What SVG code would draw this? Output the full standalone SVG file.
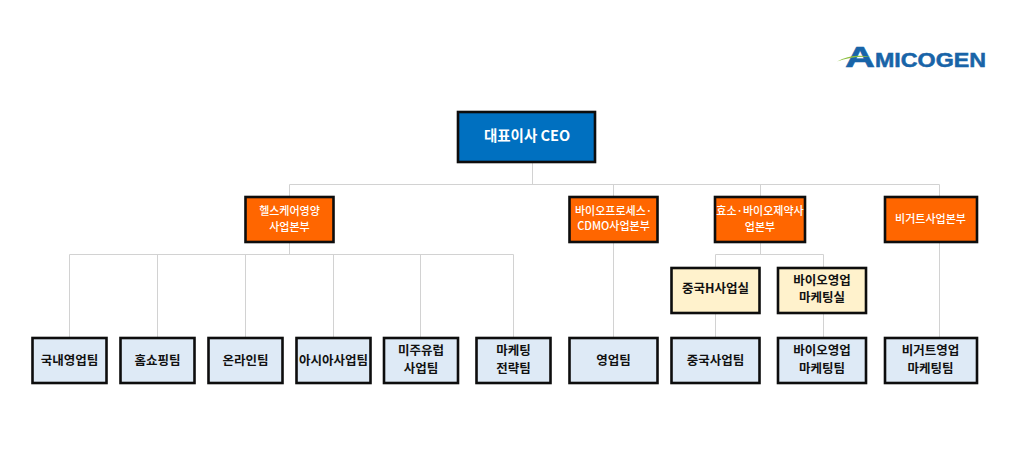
<svg xmlns="http://www.w3.org/2000/svg" width="1024" height="451" viewBox="0 0 1024 451">
<style>
text{font-family:"Noto Sans CJK KR","Noto Sans",sans-serif;text-anchor:middle;font-weight:700}
.b{stroke:#0d0d0d;stroke-width:2.6}
.ceo{fill:#0070c0}.div{fill:#ff6600}.off{fill:#fff2cc}.team{fill:#deeaf6}
.w{fill:#fff;font-size:11px;font-weight:500}.k{fill:#111;font-size:12.500px}
.l{font-family:"Liberation Sans",sans-serif;text-anchor:start;fill:#1864a8;stroke:#1864a8;stroke-width:.5}
#connectors path{fill:none;stroke:#d2d2d2;stroke-width:1}
</style>
<rect width="1024" height="451" fill="#fff"/>
<g id="connectors">
<path d="M532.500 162V184.500M289.500 184.500H939.500M289.500 184.500V197M613.500 184.500V197M760.500 184.500V197M939.500 184.500V197"/>
<path d="M289.500 242V254.500M69.500 254.500H513.500M69.500 254.500V337M157.500 254.500V337M245.500 254.500V337M333.500 254.500V337M420.500 254.500V337M513.500 254.500V337"/>
<path d="M613.500 243V337M939.500 242V337"/>
<path d="M760.500 242V254.500M715.500 254.500H823.500M715.500 254.500V267M823.500 254.500V267M715.500 313V337M823.500 313V337"/>
</g>
<g id="logo">
<text class="l" x="845" y="67" style="font-size:30px" textLength="30" lengthAdjust="spacingAndGlyphs">A</text>
<text class="l" x="875" y="67" style="font-size:19.500px" textLength="111" lengthAdjust="spacingAndGlyphs">MICOGEN</text>
<path d="M837 61.500Q852 53 871 57Q853 55.500 837 61.500Z" fill="#8cbf3f"/>
</g>
<g id="ceo"><rect class="b ceo" x="458" y="112" width="137" height="50"/><text x="527" y="141" style="fill:#fff;font-size:14.500px">대표이사 CEO</text></g>
<g id="div-health"><rect class="b div" x="245.500" y="197" width="88" height="45"/><text class="w" x="289.500" y="215">헬스케어영양</text><text class="w" x="289.500" y="231">사업본부</text></g>
<g id="div-bio"><rect class="b div" x="569.500" y="197" width="88" height="45"/><text class="w" x="613.500" y="215">바이오프로세스·</text><text class="w" x="613.500" y="230">CDMO사업본부</text></g>
<g id="div-enzyme"><rect class="b div" x="715" y="197" width="90" height="45"/><text class="w" x="760" y="215">효소·바이오제약사</text><text class="w" x="760" y="231">업본부</text></g>
<g id="div-yogurt"><rect class="b div" x="885" y="197" width="92" height="45"/><text class="w" x="930.500" y="223">비거트사업본부</text></g>
<g id="off-china"><rect class="b off" x="671.500" y="268" width="88" height="45"/><text class="k" x="715.500" y="293">중국H사업실</text></g>
<g id="off-bio"><rect class="b off" x="778" y="268" width="88" height="45"/><text class="k" x="822" y="285">바이오영업</text><text class="k" x="822" y="302">마케팅실</text></g>
<g id="t1"><rect class="b team" x="32.500" y="338" width="74" height="45"/><text class="k" x="69.500" y="365">국내영업팀</text></g>
<g id="t2"><rect class="b team" x="120.500" y="338" width="74" height="45"/><text class="k" x="157.500" y="365">홈쇼핑팀</text></g>
<g id="t3"><rect class="b team" x="208.500" y="338" width="74" height="45"/><text class="k" x="245.500" y="365">온라인팀</text></g>
<g id="t4"><rect class="b team" x="296.500" y="338" width="74" height="45"/><text class="k" x="333.500" y="365">아시아사업팀</text></g>
<g id="t5"><rect class="b team" x="384" y="338" width="74" height="45"/><text class="k" x="421" y="355">미주유럽</text><text class="k" x="421" y="373">사업팀</text></g>
<g id="t6"><rect class="b team" x="476.500" y="338" width="74" height="45"/><text class="k" x="513.500" y="355">마케팅</text><text class="k" x="513.500" y="373">전략팀</text></g>
<g id="t7"><rect class="b team" x="569.500" y="338" width="88" height="45"/><text class="k" x="613.500" y="365">영업팀</text></g>
<g id="t8"><rect class="b team" x="671.500" y="338" width="88" height="45"/><text class="k" x="715.500" y="365">중국사업팀</text></g>
<g id="t9"><rect class="b team" x="778" y="338" width="88" height="45"/><text class="k" x="822" y="355">바이오영업</text><text class="k" x="822" y="373">마케팅팀</text></g>
<g id="t10"><rect class="b team" x="885" y="338" width="92" height="45"/><text class="k" x="930.500" y="355">비거트영업</text><text class="k" x="930.500" y="373">마케팅팀</text></g>
</svg>
